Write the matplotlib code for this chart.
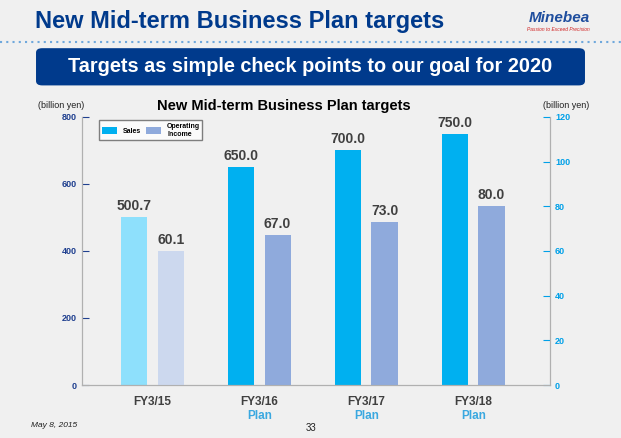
import matplotlib.pyplot as plt
from matplotlib.patches import FancyBboxPatch

years = ["FY3/15", "FY3/16", "FY3/17", "FY3/18"]
sales = [500.7, 650.0, 700.0, 750.0]
income = [60.1, 67.0, 73.0, 80.0]
plan = ["", "Plan", "Plan", "Plan"]

plt.rcParams["font.family"] = "Liberation Sans"
fig = plt.figure(figsize=(6.21, 4.38), dpi=100)
fig.patch.set_facecolor("#F0F0F0")

# header
fig.text(0.056, 0.952, "New Mid-term Business Plan targets", fontsize=17, fontweight="bold",
         color="#003A8C", va="center")
fig.text(0.95, 0.958, "Minebea", fontsize=11, fontweight="bold", style="italic", color="#1F4E9E",
         ha="right", va="center")
fig.text(0.95, 0.933, "Passion to Exceed Precision", fontsize=3.5, style="italic", color="#D02020",
         ha="right", va="center")
fig.add_artist(plt.Line2D([0, 1], [0.905, 0.905], color="#6FA8DC", lw=1.5, ls=(0, (1, 2))))
fig.add_artist(FancyBboxPatch((0.058, 0.805), 0.884, 0.085, boxstyle="round,pad=0,rounding_size=0.01",
                              facecolor="#003A8C", edgecolor="none", transform=fig.transFigure))
fig.text(0.5, 0.848, "Targets as simple check points to our goal for 2020", fontsize=14.3,
         fontweight="bold", color="white", ha="center", va="center")

ax = fig.add_axes([0.132, 0.121, 0.754, 0.612])
ax2 = ax.twinx()
ax.set_facecolor("none")
x = list(range(len(years)))
w, off = 0.245, 0.17
sc = ["#8EE0FC"] + ["#00B0F0"] * 3
ic = ["#CCD8EE"] + ["#8FAADC"] * 3
b1 = ax.bar([i - off for i in x], sales, w, color=sc)
b2 = ax2.bar([i + off for i in x], income, w, color=ic)
for i in x:
    ax.text(i - off, sales[i] + 12, f"{sales[i]:.1f}", ha="center", va="bottom", fontsize=10,
            fontweight="bold", color="#404040")
    ax2.text(i + off, income[i] + 1.8, f"{income[i]:.1f}", ha="center", va="bottom", fontsize=10,
             fontweight="bold", color="#404040")
ax.set_xlim(-0.66, 3.72)
ax.set_ylim(0, 800)
ax2.set_ylim(0, 120)
ax.set_yticks(range(0, 801, 200))
ax2.set_yticks(range(0, 121, 20))
ax.set_xticks(x)
ax.set_xticklabels(years, fontsize=8.5, fontweight="bold", color="#404040")
for i in x:
    ax.text(i, -75, plan[i], ha="center", va="top", fontsize=8.5, fontweight="bold", color="#3AA8E0")
ax.tick_params(axis="y", labelsize=6.5, colors="#1F3F8F", length=5, direction="in")
ax2.tick_params(axis="y", labelsize=6.5, colors="#00A0E8", length=5, direction="in")
for lab in ax.get_yticklabels() + ax2.get_yticklabels():
    lab.set_fontweight("bold")
ax.tick_params(axis="x", length=0, pad=8)
for a in (ax, ax2):
    a.spines["top"].set_visible(False)
    for s in ("left", "right", "bottom"):
        a.spines[s].set_color("#B0B0B0")
ax.text(-0.045, 1.035, "(billion yen)", transform=ax.transAxes, fontsize=6.5, ha="center", color="#202020")
ax.text(1.035, 1.035, "(billion yen)", transform=ax.transAxes, fontsize=6.5, ha="center", color="#202020")
ax.set_title("New Mid-term Business Plan targets", fontsize=10.5, fontweight="bold", pad=5, x=0.43)
leg = ax.legend([b1[1], b2[1]], ["Sales", "Operating\nIncome"], loc="upper left",
                bbox_to_anchor=(0.03, 1.0), ncol=2, frameon=True, fancybox=False, handlelength=2.2,
                handleheight=1.2, columnspacing=0.8, borderpad=0.3,
                prop={"weight": "bold", "size": 5})
leg.get_frame().set_edgecolor("#606060")

fig.text(0.05, 0.025, "May 8, 2015", fontsize=6, style="italic", color="#202020")
fig.text(0.493, 0.015, "33", fontsize=7, color="#202020")

fig.savefig("out.png", dpi=100, facecolor=fig.get_facecolor())
